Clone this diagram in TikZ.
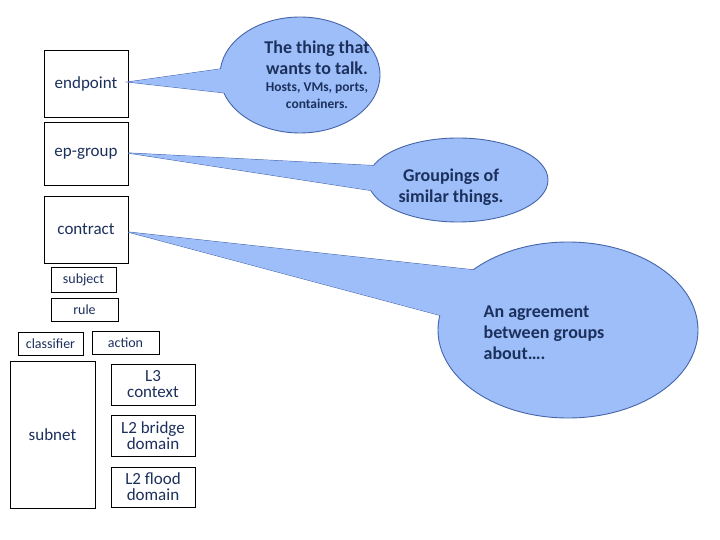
\documentclass[tikz,border=0pt]{standalone}
\usepackage{fontspec}
\setmainfont{Carlito}
\begin{document}
\begin{tikzpicture}[x=1pt,y=-1pt,
  box/.style={draw=black,line width=0.8pt,fill=white,inner sep=0pt,text=navy,align=center,font=\fontsize{17}{16}\selectfont},
  sbox/.style={box,font=\fontsize{14}{15}\selectfont},
  bubble/.style={fill=bub,draw=bubline,line width=0.9pt},
  btext/.style={text=navy,align=center,font=\bfseries\fontsize{18}{21}\selectfont}]
\definecolor{navy}{RGB}{28,48,92}
\definecolor{bub}{RGB}{158,190,250}
\definecolor{bubline}{RGB}{70,100,170}
\useasboundingbox (0,0) rectangle (720,540);
\fill[white] (0,0) rectangle (720,540);
% boxes
\node[box,minimum width=84pt,minimum height=67pt] (ep) at (86,83.5) {endpoint};
\node[box,minimum width=84pt,minimum height=63pt] (epg) at (86,153.5) {ep-group};
\node[box,minimum width=84pt,minimum height=67pt] (ct) at (86,229.5) {contract};
\node[sbox,minimum width=65pt,minimum height=25pt] (sub) at (83.5,279.5) {subject};
\node[sbox,minimum width=67pt,minimum height=23pt] (rule) at (84.5,309.5) {rule};
\node[sbox,minimum width=65pt,minimum height=23pt] (cl) at (50.5,343.5) {classifier};
\node[sbox,minimum width=67pt,minimum height=23pt] (ac) at (125.5,342.5) {action};
\node[box,minimum width=85pt,minimum height=147pt] (sn) at (52.5,435) {subnet};
\node[box,minimum width=84pt,minimum height=41pt] (l3) at (153,384.5) {L3\\context};
\node[box,minimum width=84pt,minimum height=41pt] (l2b) at (153,435.5) {L2 bridge\\domain};
\node[box,minimum width=84pt,minimum height=40pt] (l2f) at (153,487) {L2 flood\\domain};
\coordinate (t1) at (128,82);
\coordinate (t2) at (128,153);
\coordinate (t3) at (128,232);
% bubble 1
\draw[bubble] (t1) -- (270,62) -- (270,98) -- cycle;
\draw[bubble] (300,75) ellipse [x radius=80, y radius=58];
\fill[bub] (t1) -- (270,62) -- (270,98) -- cycle;
\node[btext] (b1) at (317,75) {The thing that\\wants to talk.\\[-4pt]{\fontsize{13.5}{16}\selectfont Hosts, VMs, ports,}\\[-4pt]{\fontsize{13.5}{16}\selectfont containers.}};
% bubble 2
\draw[bubble] (t2) -- (420,168) -- (420,198) -- cycle;
\draw[bubble] (458,180) ellipse [x radius=90, y radius=42];
\fill[bub] (t2) -- (420,168) -- (420,198) -- cycle;
\node[btext] (b2) at (451,187) {Groupings of\\similar things.};
% bubble 3
\draw[bubble] (t3) -- (520,275) -- (495,330) -- cycle;
\draw[bubble] (568,330) ellipse [x radius=130, y radius=88];
\fill[bub] (t3) -- (520,275) -- (495,330) -- cycle;
\node[btext,align=left] (b3) at (544,333) {An agreement\\between groups\\about\dots.};
\end{tikzpicture}
\end{document}
